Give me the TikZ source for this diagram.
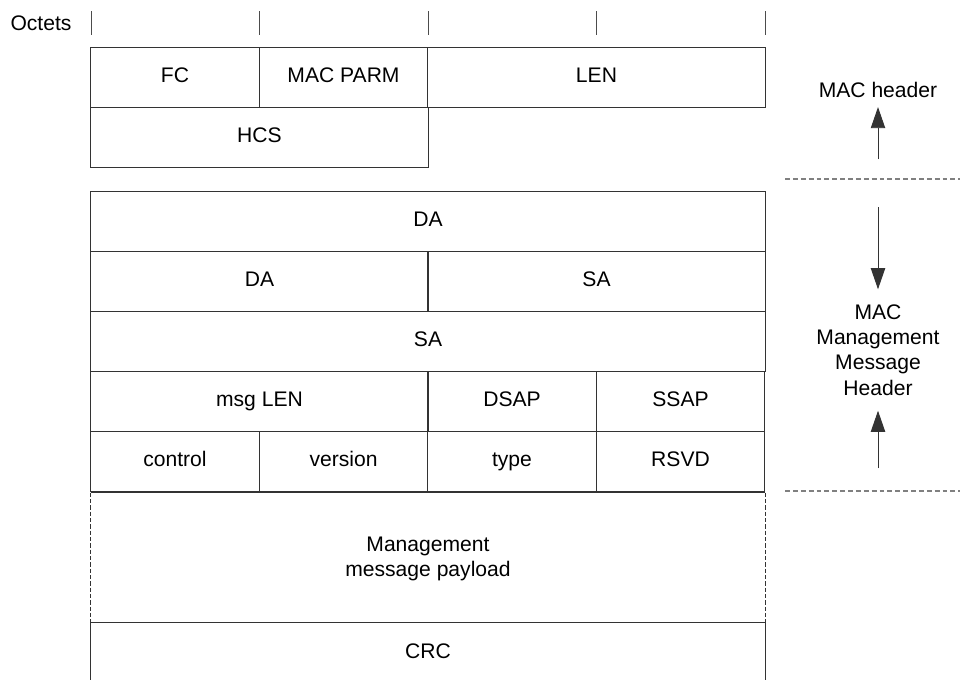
\documentclass[tikz,border=0pt]{standalone}
\usepackage{fontspec}
\setmainfont{Liberation Sans}
\usetikzlibrary{arrows.meta}
\tikzset{>={Triangle[width=0.36cm,length=0.53cm]}}
\tikzset{
    field/.style={draw=black!80, line width=0.7pt, minimum height=1.5cm, inner sep=0pt, text height=0.93em, text depth=0.214em},
    one/.style={minimum width=4.2125cm},
    two/.style={minimum width=8.425cm},
    four/.style={minimum width=16.85cm},
    sep/.style={draw=black!50, line width=0.8pt, dash pattern=on 3.5pt off 2.1pt},
    lbl/.style={align=center, inner xsep=0pt},
    pointer/.style={->, draw=black!80, fill=black, line width=0.7pt}
}

\begin{document}
\begin{tikzpicture}[x=0.025cm, y=-0.025cm, font=\fontsize{15}{18}\selectfont]
    \useasboundingbox (0,0) rectangle (960,679);
    \node (octets) at (41,23) {Octets};
    \foreach \x in {91,259,428,596,765}
        \draw[black!70, line width=0.7pt] (\x,11) -- (\x,35);
    \node[field, one] (fc) at (175,77) {FC};
    \node[field, one] (macparm) at (343.5,77) {MAC PARM};
    \node[field, two] (len) at (596.5,77) {LEN};
    \node[field, two] (hcs) at (259.5,137) {HCS};
    \node[field, four] (da) at (428,221) {DA};
    \node[field, two] (dalow) at (259.5,281) {DA};
    \node[field, two] (sahigh) at (596.5,281) {SA};
    \node[field, four] (sa) at (428,341) {SA};
    \node[field, two] (msglen) at (259.5,401) {msg LEN};
    \node[field, one] (dsap) at (512,401) {DSAP};
    \node[field, one] (ssap) at (680.5,401) {SSAP};
    \node[field, one] (control) at (175,461) {control};
    \node[field, one] (version) at (343.5,461) {version};
    \node[field, one] (type) at (512,461) {type};
    \node[field, one] (rsvd) at (680.5,461) {RSVD};
    \node[four, minimum height=3.3cm, inner sep=0pt, align=center] (payload) at (428,559) {Management\\message payload};
    \draw[black!80, line width=0.7pt] (payload.north west) -- (payload.north east);
    \draw[black!80, line width=0.7pt, dash pattern=on 3pt off 1.5pt] (payload.north west) -- (payload.south west);
    \draw[black!80, line width=0.7pt, dash pattern=on 3pt off 1.5pt] (payload.north east) -- (payload.south east);
    \node[field, four, draw=none] (crc) at (428,653) {CRC};
    \draw[black!80, line width=0.7pt] (crc.south west) -- (crc.north west) -- (crc.north east) -- (crc.south east);
    \node[lbl, inner ysep=0.225cm] (machdr) at (878,90) {MAC header};
    \node[lbl, inner ysep=0.375cm] (mmhdr) at (878,350) {MAC\\Management\\Message\\Header};
    \coordinate (hdrtail) at (878,159);
    \coordinate (mmtop) at (878,207);
    \coordinate (mmbot) at (878,468);
    \draw[pointer] (hdrtail) -- (machdr);
    \draw[pointer] (mmtop) -- (mmhdr);
    \draw[pointer] (mmbot) -- (mmhdr);
    \draw[sep] (785,179) -- (960,179);
    \draw[sep] (785,491) -- (960,491);
\end{tikzpicture}
\end{document}
